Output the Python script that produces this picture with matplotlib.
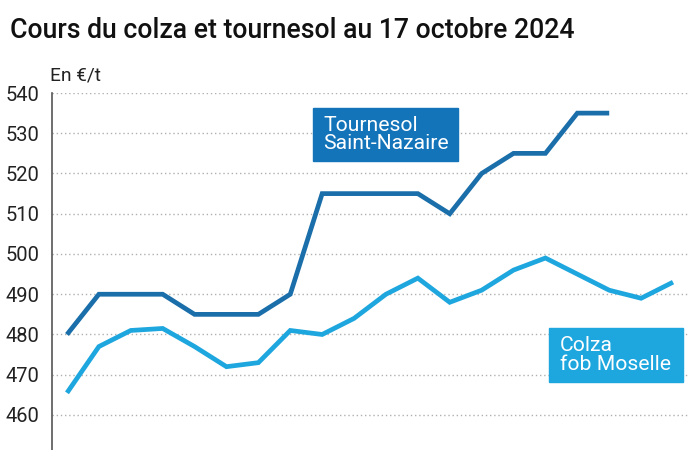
import matplotlib
matplotlib.use("Agg")
import matplotlib.pyplot as plt
from matplotlib.patches import Rectangle

# weekly quotes, in €/t
tournesol = [480, 490, 490, 490, 485, 485, 485, 490, 515, 515,
             515, 515, 510, 520, 525, 525, 535, 535]
colza = [465.5, 477, 481, 481.5, 477, 472, 473, 481, 480, 484,
         490, 494, 488, 491, 496, 499, 495, 491, 489, 493]
yticks = [460, 470, 480, 490, 500, 510, 520, 530, 540]

col_tournesol = '#1a6eaa'
col_tournesol_box = '#1474ba'
col_colza = '#1ea6de'

plt.rcParams['font.family'] = ['Roboto', 'DejaVu Sans']

fig = plt.figure(figsize=(7, 4.5), dpi=100)
ax = fig.add_axes([52/700, 0, 636/700, 1 - 93/450])

ax.plot(range(len(tournesol)), tournesol, color=col_tournesol, lw=3.4,
        solid_joinstyle='miter', solid_capstyle='butt', zorder=3)
ax.plot(range(len(colza)), colza, color=col_colza, lw=3.4,
        solid_joinstyle='miter', solid_capstyle='butt', zorder=3)

ax.set_xlim(-0.47, 19.47)
ax.set_ylim(451.3, 540)
ax.set_yticks(yticks)
ax.set_yticklabels([str(v) for v in yticks], fontsize=14.5, color='#222222')
ax.tick_params(axis='y', length=0, pad=9)
ax.set_xticks([])
ax.grid(axis='y', color='#b0b0b0', linestyle=(0, (1, 2)), lw=1)
for s in ['top', 'right', 'bottom']:
    ax.spines[s].set_visible(False)
ax.spines['left'].set_color('#555555')
ax.spines['left'].set_linewidth(1.2)

fig.text(10/700, 1 - 31/450, 'Cours du colza et tournesol au 17 octobre 2024',
         fontsize=19.2, fontweight='medium', color='#111111', va='center')
fig.text(50/700, 1 - 75/450, 'En €/t', fontsize=13.8, color='#222222', va='center')

# series labels
fig.patches.append(Rectangle((313/700, 1 - 161/450), 145/700, 53/450,
                             transform=fig.transFigure, color=col_tournesol_box, zorder=5))
fig.text(323/700, 1 - 134.5/450, 'Tournesol\nSaint-Nazaire', fontsize=15.2,
         color='white', va='center', linespacing=0.95, zorder=6)
fig.patches.append(Rectangle((549/700, 1 - 382/450), 134/700, 54/450,
                             transform=fig.transFigure, color=col_colza, zorder=5))
fig.text(560/700, 1 - 355/450, 'Colza\nfob Moselle', fontsize=15.2,
         color='white', va='center', linespacing=0.95, zorder=6)

fig.savefig('out.png', dpi=100)
